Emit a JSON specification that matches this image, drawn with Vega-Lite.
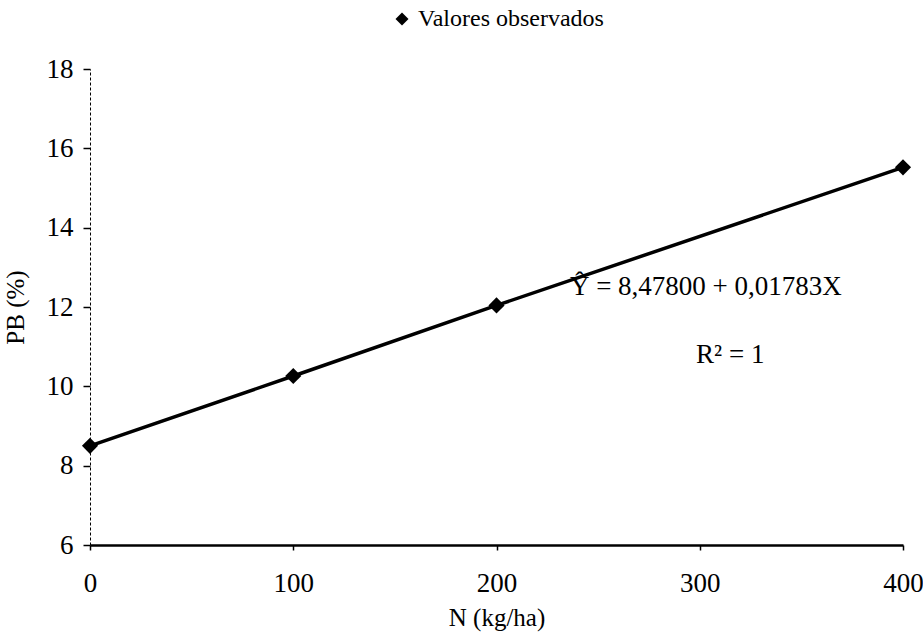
{
  "$schema": "https://vega.github.io/schema/vega-lite/v6.json",
  "width": 813,
  "height": 476,
  "autosize": {"type": "none"},
  "padding": {"left": 90, "top": 69, "right": 20, "bottom": 92},
  "background": "white",
  "config": {
    "view": {"stroke": null},
    "font": "Liberation Serif, Times New Roman, serif",
    "axis": {"grid": false, "labelFont": "Liberation Serif, Times New Roman, serif", "titleFont": "Liberation Serif, Times New Roman, serif", "labelColor": "black", "titleColor": "black", "domainColor": "black", "tickColor": "black"},
    "legend": {"labelFont": "Liberation Serif, Times New Roman, serif"}
  },
  "datasets": {
    "obs": [
      {"N": 0, "PB": 8.5, "serie": "Valores observados"},
      {"N": 100, "PB": 10.26, "serie": "Valores observados"},
      {"N": 200, "PB": 12.04, "serie": "Valores observados"},
      {"N": 400, "PB": 15.52, "serie": "Valores observados"}
    ],
    "notes": [
      {"N": 303, "PB": 12.5, "txt": "Ŷ = 8,47800 + 0,01783X"},
      {"N": 315, "PB": 10.8, "txt": "R² = 1"}
    ]
  },
  "layer": [
    {
      "data": {"name": "obs"},
      "mark": {"type": "line", "color": "black", "strokeWidth": 3.5},
      "encoding": {
        "x": {"field": "N", "type": "quantitative", "scale": {"domain": [0, 400], "nice": false},
          "axis": {"values": [0, 100, 200, 300, 400], "title": "N (kg/ha)", "labelFontSize": 27, "titleFontSize": 25, "titleFontWeight": "normal", "labelPadding": 20, "titlePadding": 9, "domainWidth": 2.5, "tickSize": 5, "tickWidth": 1.5, "labelFlush": false}},
        "y": {"field": "PB", "type": "quantitative", "scale": {"domain": [6, 18], "nice": false, "zero": false},
          "axis": {"values": [6, 8, 10, 12, 14, 16, 18], "title": "PB (%)", "labelFontSize": 27, "titleFontSize": 25, "titleFontWeight": "normal", "labelPadding": 10, "titlePadding": 18, "domainWidth": 1, "domainDash": [3, 2], "tickSize": 7, "tickWidth": 1.5}}
      }
    },
    {
      "data": {"name": "obs"},
      "mark": {"type": "point", "shape": "diamond", "filled": true, "opacity": 1, "size": 260},
      "encoding": {
        "x": {"field": "N", "type": "quantitative"},
        "y": {"field": "PB", "type": "quantitative"},
        "color": {"field": "serie", "type": "nominal", "scale": {"range": ["black"]},
          "legend": {"title": null, "orient": "none", "legendX": 300, "legendY": -62, "labelFontSize": 24, "labelColor": "black", "labelLimit": 0, "labelOffset": 4, "symbolSize": 170, "symbolType": "diamond", "symbolStrokeWidth": 0}}
      }
    },
    {
      "data": {"name": "notes"},
      "mark": {"type": "text", "fontSize": 27, "color": "black", "align": "center", "baseline": "middle"},
      "encoding": {
        "x": {"field": "N", "type": "quantitative"},
        "y": {"field": "PB", "type": "quantitative"},
        "text": {"field": "txt"}
      }
    }
  ]
}
